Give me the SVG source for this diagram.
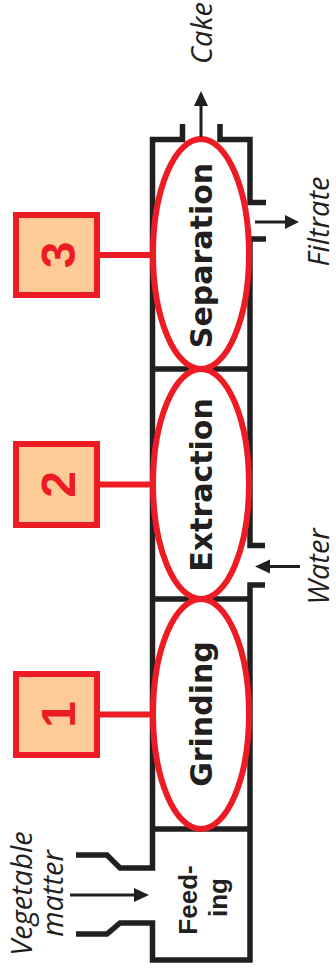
<svg xmlns="http://www.w3.org/2000/svg" width="336" height="978" viewBox="0 0 336 978">
  <style>
    .wall { fill: none; stroke: #231F20; stroke-width: 5.5; stroke-linejoin: miter; stroke-linecap: butt; }
    .stage { fill: none; stroke: #ED1C24; stroke-width: 6; }
    .tag { fill: #FDCB95; stroke: #ED1C24; stroke-width: 6; }
    .link { fill: none; stroke: #ED1C24; stroke-width: 6; }
    .flow { fill: none; stroke: #231F20; stroke-width: 3; }
    .head { fill: #231F20; }
    .stage-label { font-family: "DejaVu Sans", Verdana, sans-serif; font-weight: bold; font-size: 30px; fill: #231F20; text-anchor: middle; }
    .feed-label { font-family: "Liberation Sans", Arial, sans-serif; font-weight: bold; font-size: 26px; fill: #231F20; text-anchor: middle; }
    .num { font-family: "Liberation Sans", Arial, sans-serif; font-weight: bold; font-size: 48px; fill: #ED1C24; text-anchor: middle; }
    .io { font-family: "Open Sans", "Liberation Sans", sans-serif; font-style: italic; font-size: 29px; fill: #231F20; text-anchor: middle; }
  </style>

  <rect width="336" height="978" fill="#FFFFFF"/>

  <!-- vessel body: walls with outlets and inlets -->
  <g id="vessel">
    <path class="wall" d="M182.5 124 V139.5 H152.5 V868 H120 L107 855 H76"/>
    <path class="wall" d="M220 124 V139.5 H250 V202.5 H266"/>
    <path class="wall" d="M266 239 H250 V545.5 H265"/>
    <path class="wall" d="M265 585 H250 V960 H152.5 V923 H120 L107 934 H76"/>
    <path class="wall" d="M152.5 369 H250 M152.5 599 H250 M152.5 829 H250"/>
  </g>

  <!-- process stages -->
  <g id="separation">
    <ellipse class="stage" cx="201" cy="254" rx="48" ry="115"/>
    <text class="stage-label" transform="translate(211.5,255.5) rotate(-90)">Separation</text>
  </g>
  <g id="extraction">
    <ellipse class="stage" cx="201" cy="484" rx="48" ry="115"/>
    <text class="stage-label" transform="translate(211.5,485) rotate(-90)">Extraction</text>
  </g>
  <g id="grinding">
    <ellipse class="stage" cx="201" cy="714" rx="48" ry="115"/>
    <text class="stage-label" transform="translate(211.5,714) rotate(-90)">Grinding</text>
  </g>
  <g id="feeding">
    <text class="feed-label" transform="translate(197,900) rotate(-90)">Feed-</text>
    <text class="feed-label" transform="translate(227,897.5) rotate(-90)">ing</text>
  </g>

  <!-- numbered step tags -->
  <g id="step3">
    <rect class="tag" x="16" y="215" width="81" height="80"/>
    <text class="num" transform="translate(75,255) rotate(-90)">3</text>
  </g>
  <g id="step2">
    <rect class="tag" x="16" y="444" width="81" height="81"/>
    <text class="num" transform="translate(75,484.5) rotate(-90)">2</text>
  </g>
  <g id="step1">
    <rect class="tag" x="16" y="674" width="81" height="81"/>
    <text class="num" transform="translate(75,714.5) rotate(-90)">1</text>
  </g>

  <!-- stream labels -->
  <g id="cake">
    <text class="io" transform="translate(212,33) rotate(-90)">Cake</text>
  </g>
  <g id="filtrate">
    <text class="io" transform="translate(329,221.5) rotate(-90)">Filtrate</text>
  </g>
  <g id="water">
    <text class="io" transform="translate(329,566.5) rotate(-90)">Water</text>
  </g>
  <g id="vegetable-matter">
    <text class="io" transform="translate(32,893.5) rotate(-90)">Vegetable</text>
    <text class="io" transform="translate(63,893.5) rotate(-90)">matter</text>
  </g>

  <!-- connectors -->
  <g id="connectors">
    <path class="link" d="M100 255 H152 M100 484.5 H152 M100 714.5 H152"/>
    <path class="flow" d="M201 137 V104"/>
    <polygon class="head" points="201,91 194,106 208,106"/>
    <path class="flow" d="M255 222 H287"/>
    <polygon class="head" points="299,222 285,215 285,229"/>
    <path class="flow" d="M300 566.5 H268"/>
    <polygon class="head" points="255,566.5 270,559.5 270,573.5"/>
    <path class="flow" d="M70 895 H137"/>
    <polygon class="head" points="149,895 134,888 134,902"/>
  </g>
</svg>
